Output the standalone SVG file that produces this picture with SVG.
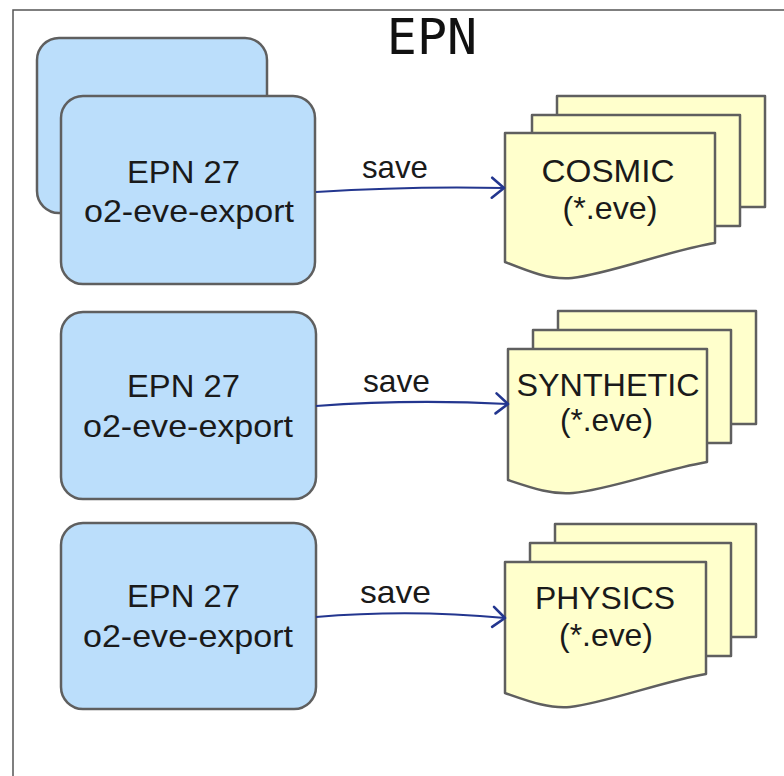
<svg xmlns="http://www.w3.org/2000/svg" width="784" height="776" viewBox="0 0 784 776">
  <style>
    .frame { fill: none; stroke: #555; stroke-width: 1.5; }
    .title { font-family: "DejaVu Sans Mono", monospace; font-size: 50px; fill: #111; }
    .proc { fill: #bbdefb; stroke: #5f5f5f; stroke-width: 2.5; }
    .doc { fill: #ffffcc; stroke: #5f5f5f; stroke-width: 2.5; stroke-linejoin: round; }
    .lbl { font-family: "Liberation Sans", Arial, sans-serif; font-size: 31.5px; fill: #1a1a1a; text-anchor: middle; }
    .edge { fill: none; stroke: #23368f; stroke-width: 2.2; }
  </style>
  <defs>
    <marker id="chevron" markerUnits="userSpaceOnUse" markerWidth="16" markerHeight="24" viewBox="0 0 16 24" refX="14" refY="12" orient="auto">
      <path d="M2,2 L14,12 L2,22" fill="none" stroke="#23368f" stroke-width="2.6" stroke-linecap="round" stroke-linejoin="round"/>
    </marker>
  </defs>

  <rect width="784" height="776" fill="#fff"/>

  <!-- EPN container -->
  <g id="epn-frame">
    <rect class="frame" x="13" y="10" width="800" height="800"/>
    <text class="title" x="432" y="54" text-anchor="middle">EPN</text>
  </g>

  <!-- exporter processes -->
  <g id="exporter-1">
    <rect class="proc" x="37" y="38" width="230" height="175" rx="22"/>
    <rect class="proc" x="61" y="96" width="254" height="188" rx="22"/>
    <text class="lbl" x="183.5" y="183" textLength="113" lengthAdjust="spacingAndGlyphs">EPN 27</text>
    <text class="lbl" x="189" y="222" textLength="210" lengthAdjust="spacingAndGlyphs">o2-eve-export</text>
  </g>
  <g id="exporter-2">
    <rect class="proc" x="61" y="312" width="255" height="187" rx="22"/>
    <text class="lbl" x="183.5" y="397" textLength="113" lengthAdjust="spacingAndGlyphs">EPN 27</text>
    <text class="lbl" x="188" y="437" textLength="210" lengthAdjust="spacingAndGlyphs">o2-eve-export</text>
  </g>
  <g id="exporter-3">
    <rect class="proc" x="61" y="523" width="255" height="186" rx="22"/>
    <text class="lbl" x="183.5" y="607" textLength="113" lengthAdjust="spacingAndGlyphs">EPN 27</text>
    <text class="lbl" x="188" y="647" textLength="210" lengthAdjust="spacingAndGlyphs">o2-eve-export</text>
  </g>

  <!-- output file stacks -->
  <g id="files-cosmic">
    <rect class="doc" x="557" y="96" width="208" height="111"/>
    <rect class="doc" x="532" y="115" width="208" height="111"/>
    <path class="doc" d="M505,133 H715 V243 C670,250 610,274 572,278 C550,280 530,272 505,262 Z"/>
    <text class="lbl" x="608" y="182" textLength="133" lengthAdjust="spacingAndGlyphs">COSMIC</text>
    <text class="lbl" x="610" y="219" textLength="95" lengthAdjust="spacingAndGlyphs">(*.eve)</text>
  </g>
  <g id="files-synthetic">
    <rect class="doc" x="558" y="311" width="198" height="113"/>
    <rect class="doc" x="533" y="330" width="198" height="113"/>
    <path class="doc" d="M508,349 H707 V462 C665,469 608,490 573,493 C552,495 532,488 508,480 Z"/>
    <text class="lbl" x="608" y="396" textLength="183" lengthAdjust="spacingAndGlyphs">SYNTHETIC</text>
    <text class="lbl" x="606.5" y="431" textLength="93" lengthAdjust="spacingAndGlyphs">(*.eve)</text>
  </g>
  <g id="files-physics">
    <rect class="doc" x="555" y="524" width="201" height="113"/>
    <rect class="doc" x="530" y="543" width="201" height="113"/>
    <path class="doc" d="M505,562 H706 V674 C664,681 606,703 570,707 C549,709 528,701 505,693 Z"/>
    <text class="lbl" x="605" y="609" textLength="140" lengthAdjust="spacingAndGlyphs">PHYSICS</text>
    <text class="lbl" x="606" y="646" textLength="94" lengthAdjust="spacingAndGlyphs">(*.eve)</text>
  </g>

  <!-- save connectors -->
  <g id="connectors">
    <path class="edge" d="M316,192 Q410,186 504,188" marker-end="url(#chevron)"/>
    <text class="lbl" x="395" y="178" textLength="66" lengthAdjust="spacingAndGlyphs">save</text>
    <path class="edge" d="M316,406 Q410,399 508,404" marker-end="url(#chevron)"/>
    <text class="lbl" x="396.5" y="392" textLength="67" lengthAdjust="spacingAndGlyphs">save</text>
    <path class="edge" d="M316,617 Q410,609 505,618" marker-end="url(#chevron)"/>
    <text class="lbl" x="395.5" y="603" textLength="71" lengthAdjust="spacingAndGlyphs">save</text>
  </g>
</svg>
